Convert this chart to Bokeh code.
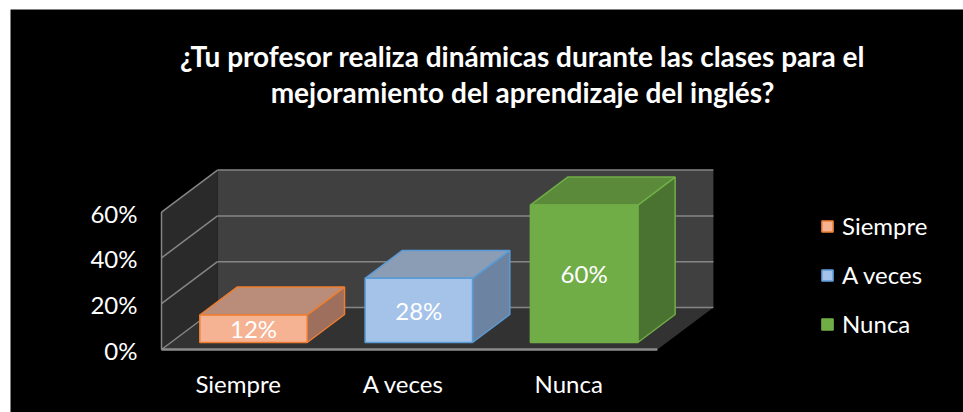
from bokeh.plotting import figure
from bokeh.models import Label, Legend, LegendItem, ColumnDataSource, Range1d
from bokeh.embed import file_html
from bokeh.resources import INLINE
from bokeh.core.properties import value

# ---------------- data ----------------
categories = ["Siempre", "A veces", "Nunca"]
values = [12, 28, 60]
value_labels = ["12%", "28%", "60%"]
y_ticks = [0, 20, 40, 60]
y_tick_labels = ["0%", "20%", "40%", "60%"]
title_lines = ["¿Tu profesor realiza dinámicas durante las clases para el",
               "mejoramiento del aprendizaje del inglés?"]

# ---------------- style ----------------
front_colors = ["#F6B394", "#A5C3E9", "#70AD47"]
line_colors = ["#ED7D31", "#5B9BD5", "#70AD47"]
top_colors = ["#B98D79", "#8A9DB5", "#5A8A3A"]
side_colors = ["#9D6F5C", "#6C84A2", "#4A7230"]
FONT = "Lato"

W, H = 963, 412
PX_X = 165.3   # pixels per category
PX_Y = 2.29    # pixels per percent
X0 = -151 / PX_X
Y0 = -63 / PX_Y
FRAME_W, FRAME_H = 953, 403

p = figure(width=W, height=H, output_backend="svg", toolbar_location=None,
           x_range=Range1d(X0, X0 + FRAME_W / PX_X),
           y_range=Range1d(Y0, Y0 + FRAME_H / PX_Y),
           x_axis_type=None, y_axis_type=None,
           min_border_left=10, min_border_top=9, min_border_right=0, min_border_bottom=0,
           background_fill_color="black", border_fill_color="white",
           outline_line_color=None)
p.grid.visible = False

n = len(categories)
ymax = y_ticks[-1]
DX = 56 / PX_X       # depth offset (x, category units)
DY = 42 / PX_Y       # depth offset (y, percent units)
BW = 0.65            # bar width
F0, F1 = 0.167, 0.833  # bar depth span (fraction of floor depth)

# walls and floor
p.quad(left=DX, right=n + DX, bottom=DY, top=ymax + DY, fill_color="#404040", line_color=None)
p.patch([0, 0, DX, DX], [0, ymax, ymax + DY, DY], fill_color="#2A2A2A", line_color=None)
p.patch([0, n, n + DX, DX], [0, 0, DY, DY], fill_color="#323232", line_color=None)

grid_col = "#868686"
p.multi_line(xs=[[DX, n + DX] for t in y_ticks], ys=[[t + DY, t + DY] for t in y_ticks],
             line_color=grid_col, line_width=1.5)
p.multi_line(xs=[[0, DX] for t in y_ticks], ys=[[t, t + DY] for t in y_ticks],
             line_color=grid_col, line_width=1.5)
p.line([0, 0], [0, ymax], line_color=grid_col, line_width=1.5)
p.line([0, n], [0, 0], line_color="#8C8C8C", line_width=2.5)

# bars
bdx = (F1 - F0) * DX
bdy = (F1 - F0) * DY
lefts, rights, bottoms, tops = [], [], [], []
side_xs, side_ys, top_xs, top_ys = [], [], [], []
for i, v in enumerate(values):
    bl = i + (1 - BW) / 2 + F0 * DX
    br = bl + BW
    bb = F0 * DY
    bt = bb + v
    lefts.append(bl); rights.append(br); bottoms.append(bb); tops.append(bt)
    side_xs.append([br, br + bdx, br + bdx, br])
    side_ys.append([bb, bb + bdy, bt + bdy, bt])
    top_xs.append([bl, br, br + bdx, bl + bdx])
    top_ys.append([bt, bt, bt + bdy, bt + bdy])

p.patches(side_xs, side_ys, fill_color=side_colors, line_color=line_colors, line_width=1.5)
p.patches(top_xs, top_ys, fill_color=top_colors, line_color=line_colors, line_width=1.5)

src = ColumnDataSource(dict(left=lefts, right=rights, bottom=bottoms, top=tops,
                            fill=front_colors, line=line_colors, cat=categories,
                            cx=[(a + b) / 2 for a, b in zip(lefts, rights)],
                            cy=[(a + b) / 2 for a, b in zip(bottoms, tops)],
                            lab=value_labels))
fronts = p.quad(left="left", right="right", bottom="bottom", top="top", source=src,
                fill_color="fill", line_color="line", line_width=1.5)

p.text(x="cx", y="cy", text="lab", source=src, text_align="center", text_baseline="middle",
       text_color="white", text_font=value(FONT), text_font_size="24px")

# category labels
p.text(x=[i + 0.5 for i in range(n)], y=[0] * n, text=categories,
       text_align="center", text_baseline="middle", x_offset=-6, y_offset=34,
       text_color="white", text_font=value(FONT), text_font_size="24px")

# value axis labels
p.text(x=[0] * len(y_ticks), y=y_ticks, text=y_tick_labels,
       text_align="right", text_baseline="middle", x_offset=-24, y_offset=1,
       text_color="white", text_font=value(FONT), text_font_size="24px")

# legend
legend = Legend(items=[LegendItem(label=c, renderers=[fronts], index=i) for i, c in enumerate(categories)],
                location=(810, 74), orientation="vertical",
                glyph_width=14, glyph_height=14, label_standoff=8, spacing=20,
                label_text_color="white", label_text_font=FONT, label_text_font_size="24px",
                padding=0, margin=0, border_line_color=None, background_fill_alpha=0)
p.add_layout(legend)

# title
for k, (line, yb) in enumerate(zip(title_lines, [357, 321])):
    p.add_layout(Label(x=512, y=yb, x_units="screen", y_units="screen", text=line,
                       text_align="center", text_baseline="alphabetic",
                       text_color="white", text_font=FONT, text_font_style="bold",
                       text_font_size="28px"))

open("out.html", "w").write(file_html(p, INLINE))
